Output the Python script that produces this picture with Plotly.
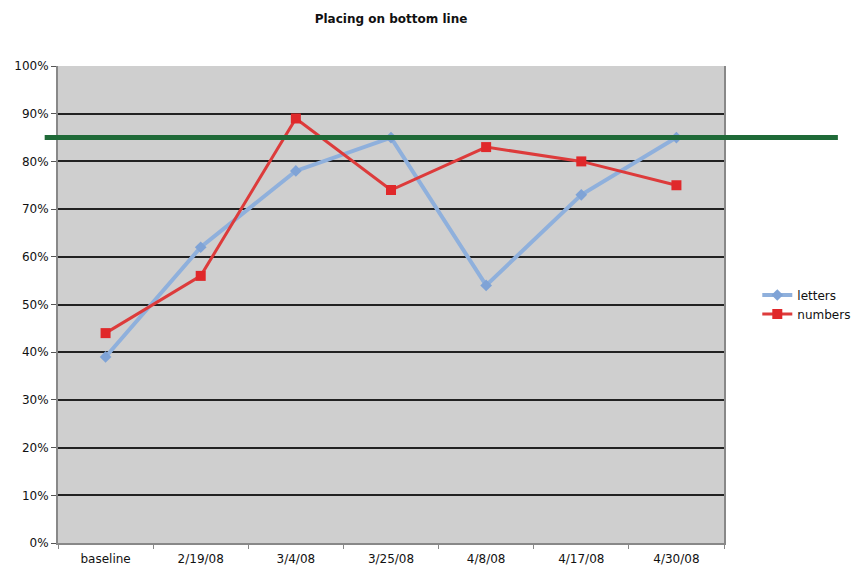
import plotly.graph_objects as go

categories = ["baseline", "2/19/08", "3/4/08", "3/25/08", "4/8/08", "4/17/08", "4/30/08"]
letters = [0.39, 0.62, 0.78, 0.85, 0.54, 0.73, 0.85]
numbers = [0.44, 0.56, 0.89, 0.74, 0.83, 0.80, 0.75]
goal = 0.85

font_family = "DejaVu Sans"

fig = go.Figure()
fig.add_trace(go.Scatter(
    x=categories, y=letters, name="letters", mode="lines+markers",
    line=dict(color="#8fb0dc", width=4),
    marker=dict(symbol="diamond", size=9, color="#7fa3d6"),
))
fig.add_trace(go.Scatter(
    x=categories, y=numbers, name="numbers", mode="lines+markers",
    line=dict(color="#dd3b3b", width=3),
    marker=dict(symbol="square", size=10, color="#e0282a"),
))

# Target level drawn across the chart and past the plot edges
fig.add_shape(
    type="line", xref="paper", yref="y",
    x0=-0.02, x1=1.171, y0=goal, y1=goal,
    line=dict(color="#1f6a38", width=5), layer="above",
)

fig.update_layout(
    width=853, height=567,
    margin=dict(l=58, r=129, t=66, b=24, autoexpand=False),
    paper_bgcolor="white",
    plot_bgcolor="#cfcfcf",
    font=dict(family=font_family, size=12, color="#111"),
    title=dict(text="<b>Placing on bottom line</b>", x=0.5, xref="paper", xanchor="center",
               y=1 - 19 / 567, yanchor="middle",
               font=dict(family=font_family, size=12, color="#111")),
    showlegend=True,
    legend=dict(x=1.05, y=0.5, xanchor="left", yanchor="middle",
                bgcolor="rgba(0,0,0,0)", font=dict(size=12),
                itemwidth=30, tracegroupgap=0),
    xaxis=dict(
        type="category", categoryorder="array", categoryarray=categories,
        range=[-0.5, len(categories) - 0.5], automargin=False,
        showgrid=False, showline=True, linecolor="#888", linewidth=2,
        ticks="outside", tickson="boundaries", ticklen=4, tickcolor="#888",
        ticklabelstandoff=4,
        mirror=False, tickfont=dict(size=12),
    ),
    yaxis=dict(
        range=[0, 1], tickvals=[i / 10 for i in range(11)], tickformat=".0%",
        automargin=False,
        showgrid=True, gridcolor="#222", gridwidth=1.5,
        showline=True, linecolor="#888", linewidth=2, mirror=True,
        ticks="outside", ticklen=5, tickcolor="#555",
        zeroline=False, tickfont=dict(size=12),
    ),
)

fig.write_html("out.html")
